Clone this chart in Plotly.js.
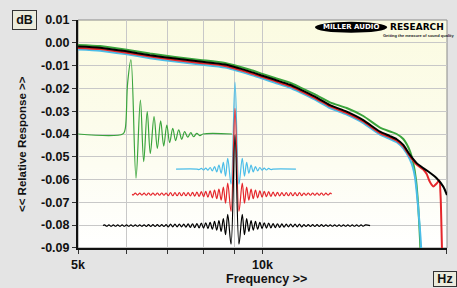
<!DOCTYPE html>
<html><head><meta charset="utf-8">
<script src="https://cdn.plot.ly/plotly-3.0.1.min.js"></script>
<style>
html,body{margin:0;padding:0;background:#e4e4e4;}
#wrap{position:relative;width:457px;height:288px;background:#e4e4e4;overflow:hidden;}
#bg{position:absolute;left:78px;top:20px;width:369px;height:228px;background:linear-gradient(to bottom,#fbfbe1 0%,#fcfceb 45%,#ffffff 100%);}
#chart{position:absolute;left:0;top:0;width:457px;height:288px;}
</style></head>
<body><div id="wrap"><div id="bg"></div><div id="chart"></div></div>
<script>
const FONT = 'Liberation Sans, Arial, sans-serif';

// axis ticks
const xTickVals = [5000,6000,7000,8000,9000,10000,20000];
const xTickText = ['5k','','','','','10k','20k'];
const yTickVals = [0.01,0,-0.01,-0.02,-0.03,-0.04,-0.05,-0.06,-0.07,-0.08,-0.09];
const yTickText = ['0.01','0.00','-0.01','-0.02','-0.03','-0.04','-0.05','-0.06','-0.07','-0.08','-0.09'];

// frequency responses (Hz, dB)
const blackFreq = [5000,5431,5966,6553,7199,7907,8686,9541,10000,10481,11088,11514,12181,12886,13720,14603,15550,16145,16556,16972,17404,17848,18296,18761,19241,19724,20000];
const blackDb   = [-0.0016,-0.0021,-0.0036,-0.0054,-0.0069,-0.0082,-0.0095,-0.0126,-0.0144,-0.0162,-0.0184,-0.0204,-0.0236,-0.0273,-0.0302,-0.0339,-0.0390,-0.0409,-0.0423,-0.0448,-0.0492,-0.0528,-0.0550,-0.0570,-0.0594,-0.0631,-0.0668];

const greenFreq = [5000,5431,5966,6553,7199,7907,8686,9541,10000,10481,11088,11514,12181,12886,13720,14603,15550,16145,16556,16972,17404,17602,17802,17956,18070,18138];
const greenDb   = [-0.0009,-0.0014,-0.0029,-0.0047,-0.0062,-0.0075,-0.0088,-0.0118,-0.0136,-0.0154,-0.0175,-0.0195,-0.0226,-0.0261,-0.0286,-0.0321,-0.0372,-0.0389,-0.0400,-0.0422,-0.0475,-0.0522,-0.0600,-0.0720,-0.0860,-0.0961];

const cyanFreq = [5000,5431,5966,6553,7199,7907,8686,9541,10000,10481,11088,11514,12181,12886,13720,14603,15550,16145,16556,16972,17404,17602,17735,17888,18003,18104,18207];
const cyanDb   = [-0.0029,-0.0034,-0.0049,-0.0067,-0.0082,-0.0095,-0.0108,-0.0139,-0.0157,-0.0175,-0.0197,-0.0217,-0.0249,-0.0286,-0.0315,-0.0352,-0.0403,-0.0422,-0.0436,-0.0463,-0.0512,-0.0548,-0.0590,-0.0680,-0.0765,-0.0850,-0.0961];

const redFreq = [5000,5431,5966,6553,7199,7907,8686,9541,10000,10481,11088,11514,12181,12886,13720,14603,15550,16145,16556,16972,17404,17848,18296,18532,18761,18997,19241,19430,19532,19591,19650];
const redDb   = [-0.0022,-0.0027,-0.0042,-0.0060,-0.0075,-0.0088,-0.0101,-0.0132,-0.0150,-0.0168,-0.0190,-0.0210,-0.0242,-0.0279,-0.0308,-0.0345,-0.0396,-0.0415,-0.0429,-0.0454,-0.0498,-0.0534,-0.0556,-0.0576,-0.0611,-0.0630,-0.0617,-0.0604,-0.0681,-0.0812,-0.0961];

// impulse responses (time in samples, amplitude drawn on dB scale)
const greenImpT = [-71.4,-51.0,-50.0,-48.8,-47.3,-45.0,-43.0,-41.5,-39.9,-38.5,-36.8,-35.3,-33.8,-32.4,-31.0,-29.7,-28.3,-27.0,-25.6,-24.2,-22.9,-21.5,-20.1,-18.8,-17.4,-16.0,-14.5,-1.4];
const greenImpV = [-0.0400,-0.0400,-0.0382,-0.0176,-0.0075,-0.0594,-0.0251,-0.0521,-0.0302,-0.0485,-0.0324,-0.0463,-0.0342,-0.0453,-0.0361,-0.0438,-0.0375,-0.0429,-0.0382,-0.0423,-0.0390,-0.0414,-0.0394,-0.0412,-0.0397,-0.0407,-0.0400,-0.0400];

const cyanImpT = [-26.8,-17.3,-16.3,-15.3,-14.3,-13.3,-12.3,-11.3,-10.3,-9.3,-8.3,-7.3,-6.3,-5.3,-4.3,-3.3,-1.8,0,1.8,3.3,4.3,5.3,6.3,7.3,8.3,9.3,10.3,11.3,12.3,13.3,14.3,15.3,16.3,17.3,27.7];
const cyanImpV = [-0.0554,-0.0554,-0.0556,-0.0551,-0.0558,-0.0550,-0.0559,-0.0547,-0.0562,-0.0543,-0.0566,-0.0536,-0.0572,-0.0525,-0.0585,-0.0507,-0.0620,-0.0172,-0.0620,-0.0507,-0.0585,-0.0525,-0.0572,-0.0536,-0.0566,-0.0543,-0.0562,-0.0547,-0.0559,-0.0550,-0.0558,-0.0551,-0.0556,-0.0554,-0.0554];

const redImpT = [-46.7,-46.3,-45.3,-44.3,-43.3,-42.3,-41.3,-40.3,-39.3,-38.3,-37.3,-36.3,-35.3,-34.3,-33.3,-32.3,-31.3,-30.3,-29.3,-28.3,-27.3,-26.3,-25.3,-24.3,-23.3,-22.3,-21.3,-20.3,-19.3,-18.3,-17.3,-16.3,-15.3,-14.3,-13.3,-12.3,-11.3,-10.3,-9.3,-8.3,-7.3,-6.3,-5.3,-4.3,-3.3,-1.8,0,1.8,3.3,4.3,5.3,6.3,7.3,8.3,9.3,10.3,11.3,12.3,13.3,14.3,15.3,16.3,17.3,18.3,19.3,20.3,21.3,22.3,23.3,24.3,25.3,26.3,27.3,28.3,29.3,30.3,31.3,32.3,33.3,34.3,35.3,36.3,37.3,38.3,39.3,40.3,41.3,42.3,43.3,43.9];
const redImpV = [-0.0664,-0.0668,-0.0660,-0.0668,-0.0660,-0.0668,-0.0660,-0.0669,-0.0659,-0.0669,-0.0659,-0.0669,-0.0659,-0.0669,-0.0659,-0.0669,-0.0659,-0.0671,-0.0657,-0.0671,-0.0657,-0.0671,-0.0657,-0.0671,-0.0657,-0.0671,-0.0657,-0.0672,-0.0656,-0.0673,-0.0655,-0.0674,-0.0653,-0.0675,-0.0652,-0.0677,-0.0650,-0.0680,-0.0646,-0.0684,-0.0642,-0.0690,-0.0633,-0.0704,-0.0616,-0.0740,-0.0287,-0.0740,-0.0616,-0.0704,-0.0633,-0.0690,-0.0642,-0.0684,-0.0646,-0.0680,-0.0650,-0.0677,-0.0652,-0.0675,-0.0653,-0.0674,-0.0655,-0.0673,-0.0656,-0.0672,-0.0657,-0.0671,-0.0657,-0.0671,-0.0657,-0.0671,-0.0657,-0.0671,-0.0657,-0.0671,-0.0659,-0.0669,-0.0659,-0.0669,-0.0659,-0.0669,-0.0659,-0.0669,-0.0659,-0.0669,-0.0660,-0.0668,-0.0660,-0.0664];

const blackImpT = [-60,-59.3,-58.3,-57.3,-56.3,-55.3,-54.3,-53.3,-52.3,-51.3,-50.3,-49.3,-48.3,-47.3,-46.3,-45.3,-44.3,-43.3,-42.3,-41.3,-40.3,-39.3,-38.3,-37.3,-36.3,-35.3,-34.3,-33.3,-32.3,-31.3,-30.3,-29.3,-28.3,-27.3,-26.3,-25.3,-24.3,-23.3,-22.3,-21.3,-20.3,-19.3,-18.3,-17.3,-16.3,-15.3,-14.3,-13.3,-12.3,-11.3,-10.3,-9.3,-8.3,-7.3,-6.3,-5.3,-4.3,-3.3,-1.8,0,1.8,3.3,4.3,5.3,6.3,7.3,8.3,9.3,10.3,11.3,12.3,13.3,14.3,15.3,16.3,17.3,18.3,19.3,20.3,21.3,22.3,23.3,24.3,25.3,26.3,27.3,28.3,29.3,30.3,31.3,32.3,33.3,34.3,35.3,36.3,37.3,38.3,39.3,40.3,41.3,42.3,43.3,44.3,45.3,46.3,47.3,48.3,49.3,50.3,51.3,52.3,53.3,54.3,55.3,56.3,57.3,58.3,59.3,61.4];
const blackImpV = [-0.0802,-0.0799,-0.0805,-0.0799,-0.0805,-0.0799,-0.0805,-0.0799,-0.0805,-0.0799,-0.0805,-0.0799,-0.0805,-0.0799,-0.0805,-0.0799,-0.0805,-0.0799,-0.0805,-0.0799,-0.0806,-0.0798,-0.0806,-0.0798,-0.0806,-0.0798,-0.0806,-0.0798,-0.0806,-0.0798,-0.0808,-0.0796,-0.0808,-0.0796,-0.0808,-0.0796,-0.0808,-0.0796,-0.0809,-0.0795,-0.0810,-0.0794,-0.0811,-0.0793,-0.0812,-0.0791,-0.0813,-0.0790,-0.0815,-0.0788,-0.0818,-0.0784,-0.0822,-0.0780,-0.0828,-0.0771,-0.0842,-0.0753,-0.0884,-0.0404,-0.0884,-0.0753,-0.0842,-0.0771,-0.0828,-0.0780,-0.0822,-0.0784,-0.0818,-0.0788,-0.0815,-0.0790,-0.0813,-0.0791,-0.0812,-0.0793,-0.0811,-0.0794,-0.0810,-0.0795,-0.0809,-0.0796,-0.0808,-0.0796,-0.0808,-0.0796,-0.0808,-0.0796,-0.0808,-0.0798,-0.0806,-0.0798,-0.0806,-0.0798,-0.0806,-0.0798,-0.0806,-0.0798,-0.0806,-0.0799,-0.0805,-0.0799,-0.0805,-0.0799,-0.0805,-0.0799,-0.0805,-0.0799,-0.0805,-0.0799,-0.0805,-0.0799,-0.0805,-0.0799,-0.0805,-0.0799,-0.0805,-0.0799,-0.0802];

const C_CYAN = '#4bbde8', C_RED = '#e5262b', C_GREEN = '#3aa43c', C_BLACK = '#000000';

function imp(t, v, color) {
  return {x: t, y: v, xaxis: 'x2', yaxis: 'y', type: 'scatter', mode: 'lines',
          line: {color: color, width: 1.2, shape: 'spline', smoothing: 1}, hoverinfo: 'skip'};
}
function resp(f, v, color) {
  return {x: f, y: v, type: 'scatter', mode: 'lines',
          line: {color: color, width: 2, shape: 'spline', smoothing: 0.6}, hoverinfo: 'skip'};
}

const data = [
  imp(greenImpT, greenImpV, C_GREEN),
  imp(cyanImpT, cyanImpV, C_CYAN),
  imp(redImpT, redImpV, C_RED),
  imp(blackImpT, blackImpV, C_BLACK),
  resp(greenFreq, greenDb, C_GREEN),
  resp(cyanFreq, cyanDb, C_CYAN),
  resp(redFreq, redDb, C_RED),
  resp(blackFreq, blackDb, C_BLACK)
];

const tickFont = {family: FONT, size: 12.5, color: '#111', weight: 'bold'};

const layout = {
  width: 457, height: 288,
  margin: {l: 78, r: 10, t: 20, b: 40, pad: 0},
  paper_bgcolor: 'rgba(0,0,0,0)', plot_bgcolor: 'rgba(0,0,0,0)',
  showlegend: false, hovermode: false,
  font: {family: FONT, size: 12, color: '#111'},
  xaxis: {type: 'log', range: [Math.log10(4999), Math.log10(20002)],
          tickmode: 'array', tickvals: xTickVals, ticktext: xTickText,
          ticks: 'outside', ticklen: 4, tickcolor: '#333', tickwidth: 1,
          showgrid: true, gridcolor: '#c8c8c8', gridwidth: 1,
          showline: true, linecolor: '#111', linewidth: 2, zeroline: false,
          tickfont: tickFont, fixedrange: true},
  xaxis2: {overlaying: 'x', type: 'linear', range: [-71.36, 96.36], visible: false, fixedrange: true},
  yaxis: {range: [-0.09005, 0.01005], tickmode: 'array', tickvals: yTickVals, ticktext: yTickText,
          ticks: 'outside', ticklen: 4, tickcolor: '#333', tickwidth: 1,
          showgrid: true, gridcolor: '#c8c8c8', gridwidth: 1,
          showline: true, linecolor: '#111', linewidth: 2, zeroline: false,
          tickfont: tickFont, fixedrange: true},
  shapes: [
    {type: 'rect', xref: 'paper', yref: 'paper', x0: 0, x1: 1, y0: 0, y1: 1,
     line: {color: '#8a8a8a', width: 1}, layer: 'between'},
    {type: 'circle', xref: 'paper', yref: 'paper', x0: 0.642, x1: 0.838, y0: 0.944, y1: 0.992,
     fillcolor: '#000', line: {color: '#000', width: 0}, layer: 'above'}
  ],
  annotations: [
    {xref: 'paper', yref: 'paper', x: -0.1458, y: 1.0, text: 'dB', showarrow: false,
     xanchor: 'center', yanchor: 'middle', font: {family: FONT, size: 12.5, color: '#111', weight: 'bold'},
     bgcolor: '#ebebdc', bordercolor: '#333', borderwidth: 1, borderpad: 1, width: 21, height: 16},
    {xref: 'paper', yref: 'paper', x: 0.9946, y: -0.1368, text: 'Hz', showarrow: false,
     xanchor: 'center', yanchor: 'middle', font: {family: FONT, size: 12.5, color: '#111', weight: 'bold'},
     bgcolor: '#ebebdc', bordercolor: '#333', borderwidth: 1, borderpad: 1, width: 20, height: 12},
    {xref: 'paper', yref: 'paper', x: 0.5095, y: -0.137, text: 'Frequency >>', showarrow: false,
     xanchor: 'center', yanchor: 'middle', font: {family: FONT, size: 12.5, color: '#111', weight: 'bold'}},
    {xref: 'paper', yref: 'paper', x: -0.1518, y: 0.456, text: '<< Relative Response >>', showarrow: false,
     textangle: -90, xanchor: 'center', yanchor: 'middle', font: {family: FONT, size: 11.5, color: '#111', weight: 'bold'}},
    {xref: 'paper', yref: 'paper', x: 0.740, y: 0.968, text: 'MILLER AUDIO', showarrow: false,
     xanchor: 'center', yanchor: 'middle', font: {family: 'DejaVu Sans, sans-serif', size: 7, color: '#ffffff', weight: 'bold'}},
    {xref: 'paper', yref: 'paper', x: 0.920, y: 0.968, text: 'RESEARCH', showarrow: false,
     xanchor: 'center', yanchor: 'middle', font: {family: 'DejaVu Sans, sans-serif', size: 9, color: '#000', weight: 'bold'}},
    {xref: 'paper', yref: 'paper', x: 0.922, y: 0.934, text: 'Getting the measure of sound quality', showarrow: false,
     xanchor: 'center', yanchor: 'middle', font: {family: FONT, size: 4, color: '#222', weight: 'bold'}}
  ]
};

Plotly.newPlot('chart', data, layout, {staticPlot: true, displayModeBar: false, responsive: false});
</script></body></html>
